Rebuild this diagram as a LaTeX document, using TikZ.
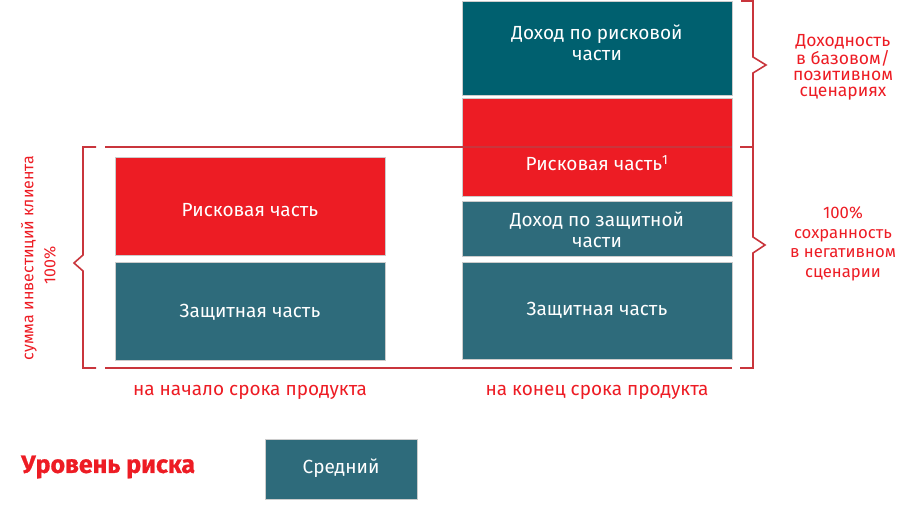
\documentclass[tikz,border=0pt]{standalone}
\usepackage{fontspec}
\setmainfont{Fira Sans}
\definecolor{tealA}{HTML}{2E6B7B}
\definecolor{tealB}{HTML}{00606F}
\definecolor{redbox}{HTML}{ED1C24}
\definecolor{redline}{HTML}{C9353C}
\definecolor{redtext}{HTML}{ED1C24}
\tikzset{
  blk/.style={anchor=north west, inner sep=0pt, draw=white!80!black, line width=0.4pt},
  wtxt/.style={text=white, font=\fontsize{19}{22}\selectfont, align=center},
  brk/.style={draw=redline, line width=1.6pt},
  lbl/.style={text=redtext, font=\fontsize{19}{22}\selectfont, align=center, inner sep=0pt},
  side/.style={text=redtext, font=\fontsize{16.7}{19.5}\selectfont, align=center, inner sep=0pt}
}
\begin{document}
\begin{tikzpicture}[x=1pt,y=-1pt]
\useasboundingbox (0,0) rectangle (900,505);
% left column
\node[blk, fill=redbox, minimum width=270pt, minimum height=98pt] (lr) at (115,157) {};
\node[blk, fill=tealA, minimum width=270pt, minimum height=98pt] (lt) at (115,262) {};
\node[wtxt] (lrt) at (250,210) {Рисковая часть};
\node[wtxt] (ltt) at (250,312) {Защитная часть};
% right column
\node[blk, fill=tealB, minimum width=270pt, minimum height=94pt] (r1) at (462,1) {};
\node[blk, fill=redbox, minimum width=270pt, minimum height=98pt] (r2) at (462,98) {};
\node[blk, fill=tealA, minimum width=270pt, minimum height=55pt] (r3) at (462,201) {};
\node[blk, fill=tealA, minimum width=270pt, minimum height=97pt] (r4) at (462,262) {};
\node[wtxt, font=\fontsize{19}{21.5}\selectfont] (r1t) at (597,43) {Доход по рисковой\\части};
\node[wtxt] (r2t) at (597,163) {Рисковая часть\textsuperscript{1}};
\node[wtxt, font=\fontsize{19}{21.5}\selectfont] (r3t) at (597,230) {Доход по защитной\\части};
\node[wtxt] (r4t) at (597,310) {Защитная часть};
% lines and brackets
\coordinate (la) at (96,147);
\coordinate (lb) at (96,368);
\draw[brk] (la) -- (83,147) -- (83,255) -- (74,263) -- (83,271) -- (83,368) -- (lb);
\draw[brk] (105,147) -- (732,147);
\draw[brk] (105,368) -- (732,368);
\draw[brk] (740,147) -- (753,147) -- (753,237) -- (765,245) -- (753,253) -- (753,368) -- (740,368);
\draw[brk] (741,1) -- (753,1) -- (753,57) -- (766,65) -- (753,73) -- (753,147);
% labels
\node[lbl] (lab1) at (250,392) {на начало срока продукта};
\node[lbl] (lab2) at (597,392) {на конец срока продукта};
\node[side, rotate=90, font=\fontsize{16}{19}\selectfont] (vert) at (29,258) {сумма инвестиций клиента};
\node[side, rotate=90, font=\fontsize{16}{19}\selectfont] (pct) at (50,265) {100\%};
\node[side, font=\fontsize{17.5}{16}\selectfont] (t1) at (843,67) {Доходность\\в базовом/\\позитивном\\сценариях};
\node[side] (t2) at (843,244) {100\%\\сохранность\\в негативном\\сценарии};
% legend
\node[text=redtext, font=\fontsize{25}{27}\selectfont\bfseries\addfontfeatures{FakeBold=1}, anchor=west, inner sep=0pt] (risk) at (21,467) {Уровень риска};
\node[blk, fill=tealA, minimum width=152pt, minimum height=60pt] (mid) at (265,439) {};
\node[wtxt] (midt) at (341,468) {Средний};
\end{tikzpicture}
\end{document}
